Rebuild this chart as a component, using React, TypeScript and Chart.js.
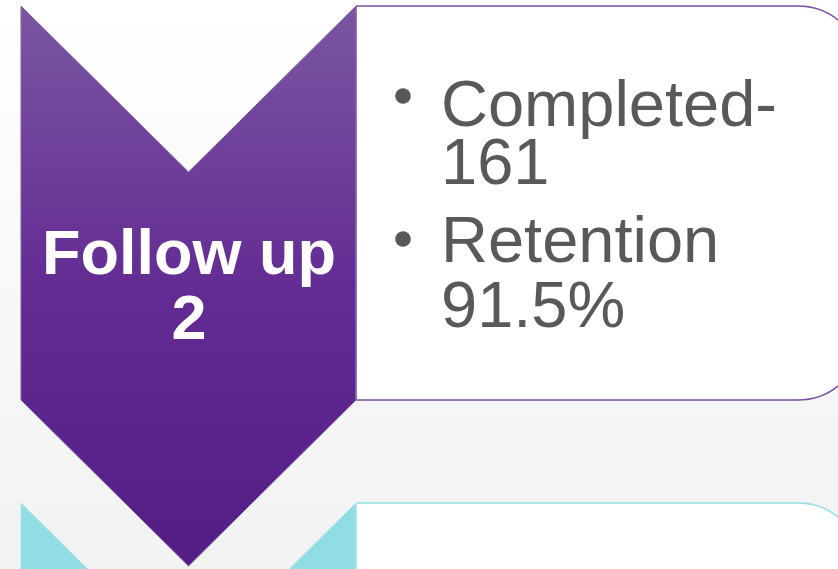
import React, { useEffect, useRef } from "react";
import { Chart, registerables } from "chart.js";

Chart.register(...registerables);

// ---- content ----
const stageLabel: string[] = ["Follow up", "2"];
const bulletLines: string[][] = [
  ["Completed-", "161"],
  ["Retention", "91.5%"],
];
const completedCount: number[] = [161];
const retentionPct: number[] = [91.5];

// ---- layout (diagram units == pixels) ----
const W = 838;
const H = 569;

function chevron(left: number, right: number, top: number, bottom: number, notch: number) {
  const mid = (left + right) / 2;
  return [
    { x: left, y: top },
    { x: mid, y: top + notch },
    { x: right, y: top },
    { x: right, y: bottom },
    { x: mid, y: bottom + notch },
    { x: left, y: bottom },
    { x: left, y: top },
  ];
}

function roundRightPath(ctx: CanvasRenderingContext2D, x0: number, y0: number, x1: number, y1: number, r: number, close: boolean) {
  ctx.beginPath();
  ctx.moveTo(x0, y0);
  ctx.lineTo(x1 - r, y0);
  ctx.arcTo(x1, y0, x1, y0 + r, r);
  ctx.lineTo(x1, y1 - r);
  ctx.arcTo(x1, y1, x1 - r, y1, r);
  ctx.lineTo(x0, y1);
  if (close) ctx.closePath();
}

export default function App() {
  const ref = useRef<HTMLCanvasElement | null>(null);

  useEffect(() => {
    document.body.style.margin = "0";
    const canvas = ref.current!;
    const px = (chart: any, v: number) => chart.scales.x.getPixelForValue(v);
    const py = (chart: any, v: number) => chart.scales.y.getPixelForValue(v);

    const drawBox = (chart: any, top: number, bottom: number, stroke: string) => {
      const ctx = chart.ctx;
      const x0 = px(chart, 356), x1 = px(chart, 862);
      const y0 = py(chart, top), y1 = py(chart, bottom);
      roundRightPath(ctx, x0, y0, x1, y1, 64, true);
      ctx.fillStyle = "#ffffff";
      ctx.fill();
      roundRightPath(ctx, x0, y0, x1, y1, 64, false);
      ctx.strokeStyle = stroke;
      ctx.lineWidth = 1.5;
      ctx.stroke();
    };

    const bgPlugin = {
      id: "bg",
      beforeDraw(chart: any) {
        const ctx = chart.ctx;
        ctx.save();
        const g = ctx.createLinearGradient(0, 0, 0, chart.height);
        g.addColorStop(0, "#ffffff");
        g.addColorStop(1, "#f2f2f2");
        ctx.fillStyle = g;
        ctx.fillRect(0, 0, chart.width, chart.height);
        ctx.restore();
      },
      beforeDatasetsDraw(chart: any) {
        const ctx = chart.ctx;
        ctx.save();
        drawBox(chart, 6, 400, "#7a4ea6");
        drawBox(chart, 503, 897, "#92dfe4");
        ctx.restore();
      },
      afterDatasetsDraw(chart: any) {
        const ctx = chart.ctx;
        ctx.save();
        // stage label
        ctx.fillStyle = "#ffffff";
        ctx.font = "bold 63px 'Liberation Sans', Arial, sans-serif";
        ctx.textAlign = "center";
        ctx.textBaseline = "alphabetic";
        const lblBase = [274, 339];
        stageLabel.forEach((t, i) => ctx.fillText(t, px(chart, 189), py(chart, lblBase[i])));
        // bullets
        ctx.fillStyle = "#595959";
        ctx.font = "65px 'Liberation Sans', Arial, sans-serif";
        ctx.textAlign = "left";
        const bulletY = [96, 239];
        const baseY = [[126, 184], [262, 327]];
        bulletLines.forEach((lines, i) => {
          ctx.beginPath();
          ctx.arc(px(chart, 403), py(chart, bulletY[i]), 7.8, 0, Math.PI * 2);
          ctx.fill();
          lines.forEach((t, j) => ctx.fillText(t, px(chart, 441), py(chart, baseY[i][j])));
        });
        ctx.restore();
      },
    };

    const chart = new Chart(canvas, {
      type: "scatter",
      data: {
        datasets: [
          {
            label: "Follow up 2",
            data: chevron(21, 356, 6, 400, 166),
            showLine: true,
            tension: 0,
            pointRadius: 0,
            fill: "shape",
            borderColor: "#8563ad",
            borderWidth: 1,
            backgroundColor: (c: any) => {
              const ch = c.chart;
              if (!ch.chartArea) return "#632b93";
              const g = ch.ctx.createLinearGradient(0, py(ch, 6), 0, py(ch, 567));
              g.addColorStop(0, "#7a56a1");
              g.addColorStop(0.5, "#632c94");
              g.addColorStop(1, "#541d86");
              return g;
            },
          },
          {
            label: "next",
            data: chevron(21, 356, 503, 897, 166),
            showLine: true,
            tension: 0,
            pointRadius: 0,
            fill: "shape",
            borderColor: "#a3e5e9",
            borderWidth: 1,
            backgroundColor: "#90dee3",
          },
        ],
      },
      options: {
        animation: false,
        responsive: false,
        maintainAspectRatio: false,
        layout: { padding: 0 },
        plugins: { legend: { display: false }, tooltip: { enabled: false } },
        scales: {
          x: { type: "linear", min: 0, max: W, display: false },
          y: { type: "linear", min: 0, max: H, reverse: true, display: false },
        },
      },
      plugins: [bgPlugin],
    });
    return () => chart.destroy();
  }, []);

  return (
    <div style={{ width: W, height: H }} data-completed={completedCount[0]} data-retention={retentionPct[0]}>
      <canvas ref={ref} width={W} height={H} style={{ display: "block" }} />
    </div>
  );
}
